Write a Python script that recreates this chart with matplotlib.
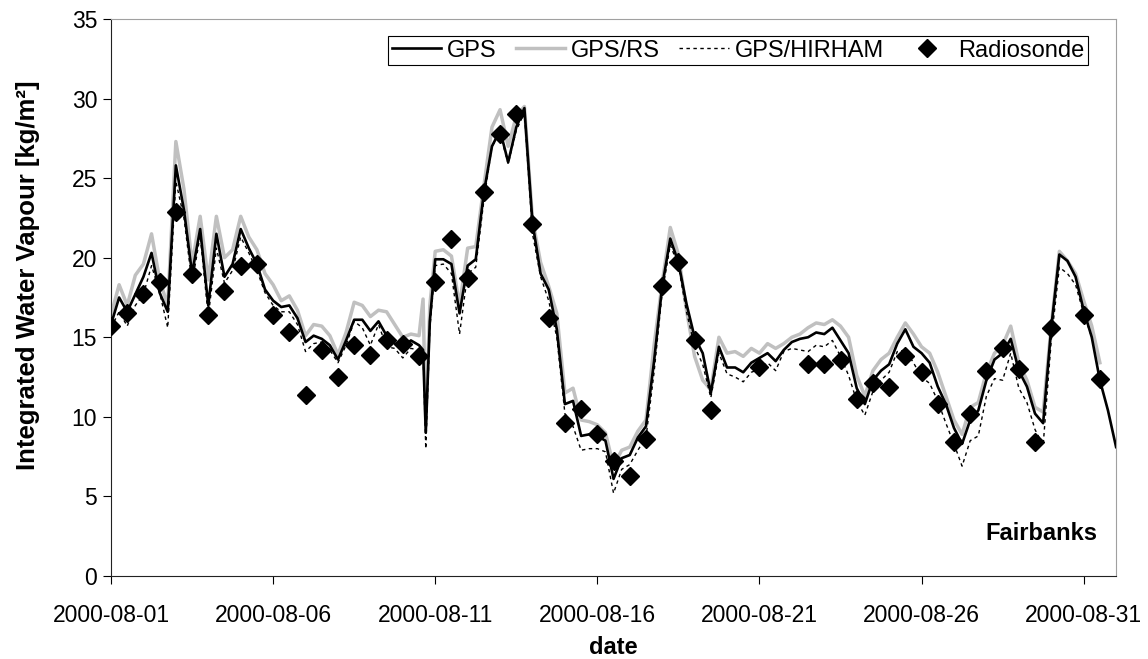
import numpy as np
import matplotlib
matplotlib.use('Agg')
import matplotlib.pyplot as plt
import matplotlib.dates as mdates

plt.rcParams['font.family'] = ['Liberation Sans', 'DejaVu Sans']

# sampling times (hours after 2000-08-01 00:00), 6-hourly with a few extra samples around the drop on 08-10
gps_hours = np.concatenate([np.arange(0, 229, 6), [231, 233, 236], np.arange(240, 745, 6)])

gps = [
    15.8, 17.5, 16.6, 17.7,
    18.8, 20.3, 17.8, 16.6,
    25.8, 23.0, 19.0, 21.8,
    17.0, 21.5, 18.8, 19.6,
    21.8, 20.6, 19.6, 18.0,
    17.3, 16.9, 17.0, 16.2,
    14.7, 15.1, 14.9, 14.5,
    13.6, 14.8, 16.1, 16.1,
    15.4, 16.0, 15.1, 14.6,
    14.4, 14.8, 14.5,
    14.2, 9.0, 16.0,
    19.9, 19.9, 19.6, 16.5,
    19.5, 19.9, 24.1, 27.0,
    28.0, 26.0, 28.2, 29.4,
    22.2, 19.0, 18.0, 15.5,
    10.8, 11.0, 8.8, 8.9,
    8.8, 8.5, 6.1, 7.4,
    7.6, 8.7, 9.4, 13.5,
    18.2, 21.2, 19.7, 17.1,
    15.0, 14.0, 11.5, 14.4,
    13.1, 13.1, 12.8, 13.4,
    13.7, 14.0, 13.5, 14.2,
    14.7, 14.9, 15.0, 15.3,
    15.2, 15.6, 14.8, 14.0,
    11.8, 10.8, 12.3, 12.9,
    13.3, 14.6, 15.5, 14.4,
    14.0, 13.4, 11.9, 10.8,
    9.3, 8.3, 9.8, 10.4,
    12.3, 13.6, 14.0, 14.9,
    12.9, 11.9, 10.2, 9.6,
    15.6, 20.2, 19.8, 18.8,
    16.7, 15.0, 12.3, 10.4,
    8.1,
]

gps_rs = [
    16.4, 18.3, 17.0, 18.9,
    19.6, 21.5, 18.6, 17.0,
    27.3, 24.3, 19.6, 22.6,
    18.6, 22.6, 20.0, 20.5,
    22.6, 21.3, 20.5, 19.0,
    18.3, 17.3, 17.6, 16.7,
    15.1, 15.8, 15.7, 15.1,
    13.9, 15.3, 17.2, 17.0,
    16.3, 16.7, 16.6, 15.8,
    15.0, 15.2, 15.1,
    17.4, 9.5, 17.0,
    20.4, 20.5, 20.1, 17.0,
    20.6, 20.7, 24.5, 28.2,
    29.3, 27.0, 28.9, 29.5,
    22.4, 19.7, 18.2, 16.5,
    11.5, 11.8, 9.8, 9.7,
    9.5, 9.0, 6.9, 7.9,
    8.1, 9.1, 9.8, 14.5,
    18.4, 21.9, 20.2, 16.7,
    13.8, 12.3, 11.7, 15.0,
    14.0, 14.1, 13.8, 14.3,
    14.0, 14.6, 14.3, 14.6,
    15.0, 15.2, 15.6, 15.9,
    15.8, 16.1, 15.7, 15.0,
    12.6, 11.3, 12.9, 13.6,
    14.0, 15.0, 15.9, 15.2,
    14.4, 14.0, 12.8, 11.3,
    9.8, 8.9, 10.6, 10.9,
    12.8, 14.0, 14.5, 15.7,
    13.4, 12.3, 10.6, 10.3,
    15.7, 20.4, 19.8, 19.0,
    17.3, 15.7, 13.4, np.nan,
    np.nan,
]

gps_hirham = [
    15.6, 16.6, 15.7, 17.0,
    17.7, 19.5, 17.8, 15.6,
    24.8, 22.5, 18.4, 21.4,
    16.3, 20.6, 18.4, 19.2,
    21.3, 20.3, 19.2, 17.8,
    17.0, 16.6, 16.6, 15.8,
    14.1, 14.6, 14.7, 14.2,
    13.4, 14.5, 16.0, 15.6,
    14.5, 15.8, 14.4, 14.3,
    13.7, 14.3, 14.2,
    14.0, 8.0, 15.5,
    19.5, 19.6, 19.0, 15.2,
    19.0, 19.4, 23.6, 27.0,
    27.8, 25.9, 28.0, 29.1,
    21.5, 18.8, 17.3, 15.0,
    10.2, 9.4, 7.9, 8.0,
    8.0, 7.8, 5.2, 6.7,
    7.0, 7.9, 8.7, 12.8,
    17.8, 20.8, 19.5, 16.6,
    14.4, 13.3, 11.2, 14.0,
    12.7, 12.5, 12.2, 12.8,
    13.0, 13.4, 12.9, 14.1,
    14.3, 14.2, 14.1, 14.5,
    14.4, 14.8, 13.8, 12.6,
    11.0, 10.1, 11.6, 12.3,
    12.8, 14.1, 14.2, 13.4,
    12.5, 12.1, 11.0, 9.6,
    8.3, 6.9, 8.5, 8.8,
    11.3, 12.4, 12.3, 14.0,
    11.8, 10.9, 9.2, 8.2,
    14.8, 19.4, 19.0, 18.3,
    16.5, 15.0, np.nan, np.nan,
    np.nan,
]

# radiosonde launches every 12 h from 2000-08-01 00:00 (nan = no sounding)
rs_hours = np.arange(0, 733, 12)
radiosonde = [
    15.7, 16.5, 17.7, 18.5, 22.9, 19.0, 16.4, 17.9, 19.5, 19.6,
    16.4, 15.3, 11.4, 14.2, 12.5, 14.5, 13.9, 14.8, 14.6, 13.8,
    18.5, 21.2, 18.7, 24.1, 27.8, 29.0, 22.1, 16.2, 9.6, 10.5,
    8.9, 7.2, 6.3, 8.6, 18.2, 19.7, 14.8, 10.4, np.nan, np.nan,
    13.1, np.nan, np.nan, 13.3, 13.3, 13.6, 11.1, 12.1, 11.9, 13.8,
    12.8, 10.8, 8.4, 10.2, 12.9, 14.3, 13.0, 8.4, 15.6, np.nan,
    16.4, 12.4,
]

tick_dates = ['2000-08-01', '2000-08-06', '2000-08-11', '2000-08-16',
              '2000-08-21', '2000-08-26', '2000-08-31']

start = np.datetime64('2000-08-01T00:00')
t_gps = start + gps_hours.astype('timedelta64[h]')
t_rs = start + rs_hours.astype('timedelta64[h]')

fig = plt.figure(figsize=(11.48, 6.59), dpi=100)
ax = fig.add_axes([0.0967, 0.126, 0.8755, 0.8452])

ax.plot(t_gps, gps_rs, color='#c0c0c0', lw=2.5, label='GPS/RS', zorder=2)
ax.plot(t_gps, gps, color='black', lw=1.9, label='GPS', zorder=3)
ax.plot(t_gps, gps_hirham, color='black', lw=1.0, dashes=(2.5, 2.5), label='GPS/HIRHAM', zorder=4)
ax.plot(t_rs, radiosonde, 'D', color='black', markersize=9.5, label='Radiosonde', zorder=5)

ax.set_xlim(np.datetime64('2000-08-01T00:00'), np.datetime64('2000-09-01T00:00'))
ax.set_ylim(0, 35)
ax.set_yticks(np.arange(0, 36, 5))
ax.set_xticks([np.datetime64(d) for d in tick_dates])
ax.xaxis.set_major_formatter(mdates.DateFormatter('%Y-%m-%d'))
ax.tick_params(axis='x', direction='out', length=6, pad=14, labelsize=16.5)
ax.tick_params(axis='y', direction='out', length=6, pad=4, labelsize=16.5)

for side in ['top', 'right']:
    ax.spines[side].set_color('#a0a0a0')
for side in ['left', 'bottom']:
    ax.spines[side].set_color('#222222')

ax.set_xlabel('date', fontsize=17, fontweight='bold', labelpad=7)
ax.set_ylabel('Integrated Water Vapour [kg/m²]', fontsize=18.5, fontweight='bold')
ax.yaxis.set_label_coords(-0.071, 0.54)

handles, labels = ax.get_legend_handles_labels()
order = [1, 0, 2, 3]
leg = ax.legend([handles[i] for i in order], [labels[i] for i in order], ncol=4,
                loc='upper right', bbox_to_anchor=(0.972, 0.9695), borderaxespad=0,
                fontsize=17, handlelength=2.1, handletextpad=0.25, columnspacing=0.8,
                borderpad=0.15, fancybox=False, framealpha=1, edgecolor='black')
leg.get_frame().set_linewidth(0.8)

ax.text(0.981, 0.077, 'Fairbanks', transform=ax.transAxes, ha='right', va='center',
        fontsize=17, fontweight='bold')

fig.savefig('out.png', dpi=100)
